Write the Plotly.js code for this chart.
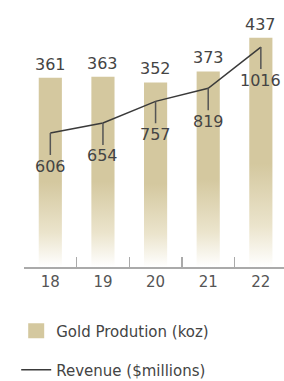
<!DOCTYPE html>
<html>
<head>
<meta charset="utf-8">
<script src="https://cdn.plot.ly/plotly-3.0.1.min.js"></script>
<style>
html,body{margin:0;padding:0;background:#fff;}
#chart{width:284px;height:381px;}
</style>
</head>
<body>
<div id="chart"></div>
<script>
const years = ['18', '19', '20', '21', '22'];
const goldProduction = [361, 363, 352, 373, 437];
const revenue = [606, 654, 757, 819, 1016];
const goldName = 'Gold Prodution (koz)';
const revenueName = 'Revenue ($millions)';

const FONT = 'DejaVu Sans, sans-serif';
const TXT = '#444444';
const GOLD = '#d4c89f';

const traces = [
  {
    type: 'bar', x: years, y: goldProduction, name: goldName,
    marker: {color: GOLD}, width: 0.44, legend: 'legend',
    hoverinfo: 'skip'
  },
  {
    type: 'scatter', mode: 'lines', x: years, y: revenue, yaxis: 'y2',
    name: revenueName, line: {color: '#3a3a3a', width: 1.5}, legend: 'legend2',
    hoverinfo: 'skip'
  }
];

const annotations = [];
years.forEach((yr, i) => {
  annotations.push({
    x: i, y: goldProduction[i], xref: 'x', yref: 'y',
    text: String(goldProduction[i]), showarrow: false,
    yanchor: 'bottom', yshift: 2,
    font: {family: FONT, size: 16, color: TXT}
  });
  annotations.push({
    x: i, y: revenue[i], xref: 'x', yref: 'y2',
    text: String(revenue[i]), showarrow: true,
    ax: 0, ay: 33, arrowhead: 0, arrowwidth: 1.5, arrowcolor: '#555555',
    font: {family: FONT, size: 16, color: TXT}
  });
});

const layout = {
  width: 284, height: 381,
  margin: {l: 24, r: 0, t: 20, b: 114, autoexpand: false},
  paper_bgcolor: '#ffffff', plot_bgcolor: 'rgba(0,0,0,0)',
  font: {family: FONT, color: TXT},
  showlegend: true,
  xaxis: {
    type: 'category', range: [-0.5, 4.44], fixedrange: true,
    tickson: 'boundaries', ticks: 'inside', ticklen: 10, tickwidth: 1.5, tickcolor: '#aaaaaa',
    showline: true, linecolor: '#aaaaaa', linewidth: 1.5, showgrid: false, zeroline: false,
    tickfont: {family: FONT, size: 15, color: '#555555'}
  },
  yaxis: {range: [0, 471], visible: false, fixedrange: true},
  yaxis2: {range: [-33, 1145], visible: false, overlaying: 'y', fixedrange: true},
  legend: {
    x: -0.03, y: -0.259, xanchor: 'left', yanchor: 'middle',
    font: {family: FONT, size: 15, color: TXT}, bgcolor: 'rgba(0,0,0,0)'
  },
  legend2: {
    x: -0.03, y: -0.417, xanchor: 'left', yanchor: 'middle',
    font: {family: FONT, size: 15, color: TXT}, bgcolor: 'rgba(0,0,0,0)'
  },
  annotations: annotations
};

Plotly.newPlot('chart', traces, layout, {staticPlot: true, displayModeBar: false}).then(gd => {
  const NS = 'http://www.w3.org/2000/svg';
  const svg = gd.querySelector('svg.main-svg');
  let defs = svg.querySelector('defs');
  if (!defs) { defs = document.createElementNS(NS, 'defs'); svg.insertBefore(defs, svg.firstChild); }
  const grad = document.createElementNS(NS, 'linearGradient');
  grad.setAttribute('id', 'barGrad');
  grad.setAttribute('x1', '0'); grad.setAttribute('y1', '0');
  grad.setAttribute('x2', '0'); grad.setAttribute('y2', '1');
  [['0', GOLD, 1], ['0.55', GOLD, 1], ['0.82', '#ebe4cc', 1], ['1', '#ffffff', 1]].forEach(s => {
    const st = document.createElementNS(NS, 'stop');
    st.setAttribute('offset', s[0]);
    st.setAttribute('stop-color', s[1]);
    st.setAttribute('stop-opacity', s[2]);
    grad.appendChild(st);
  });
  defs.appendChild(grad);
  gd.querySelectorAll('.barlayer .point path').forEach(p => {
    p.style.fill = 'url(#barGrad)';
  });
  gd.querySelectorAll('.legendpoints path').forEach(p => {
    const d = p.getAttribute('d') || '';
    if (/^M6,6H-6V-6H6Z/.test(d)) {
      p.setAttribute('d', 'M8,7.5H-8V-7.5H8Z');
    }
  });
});
</script>
</body>
</html>
